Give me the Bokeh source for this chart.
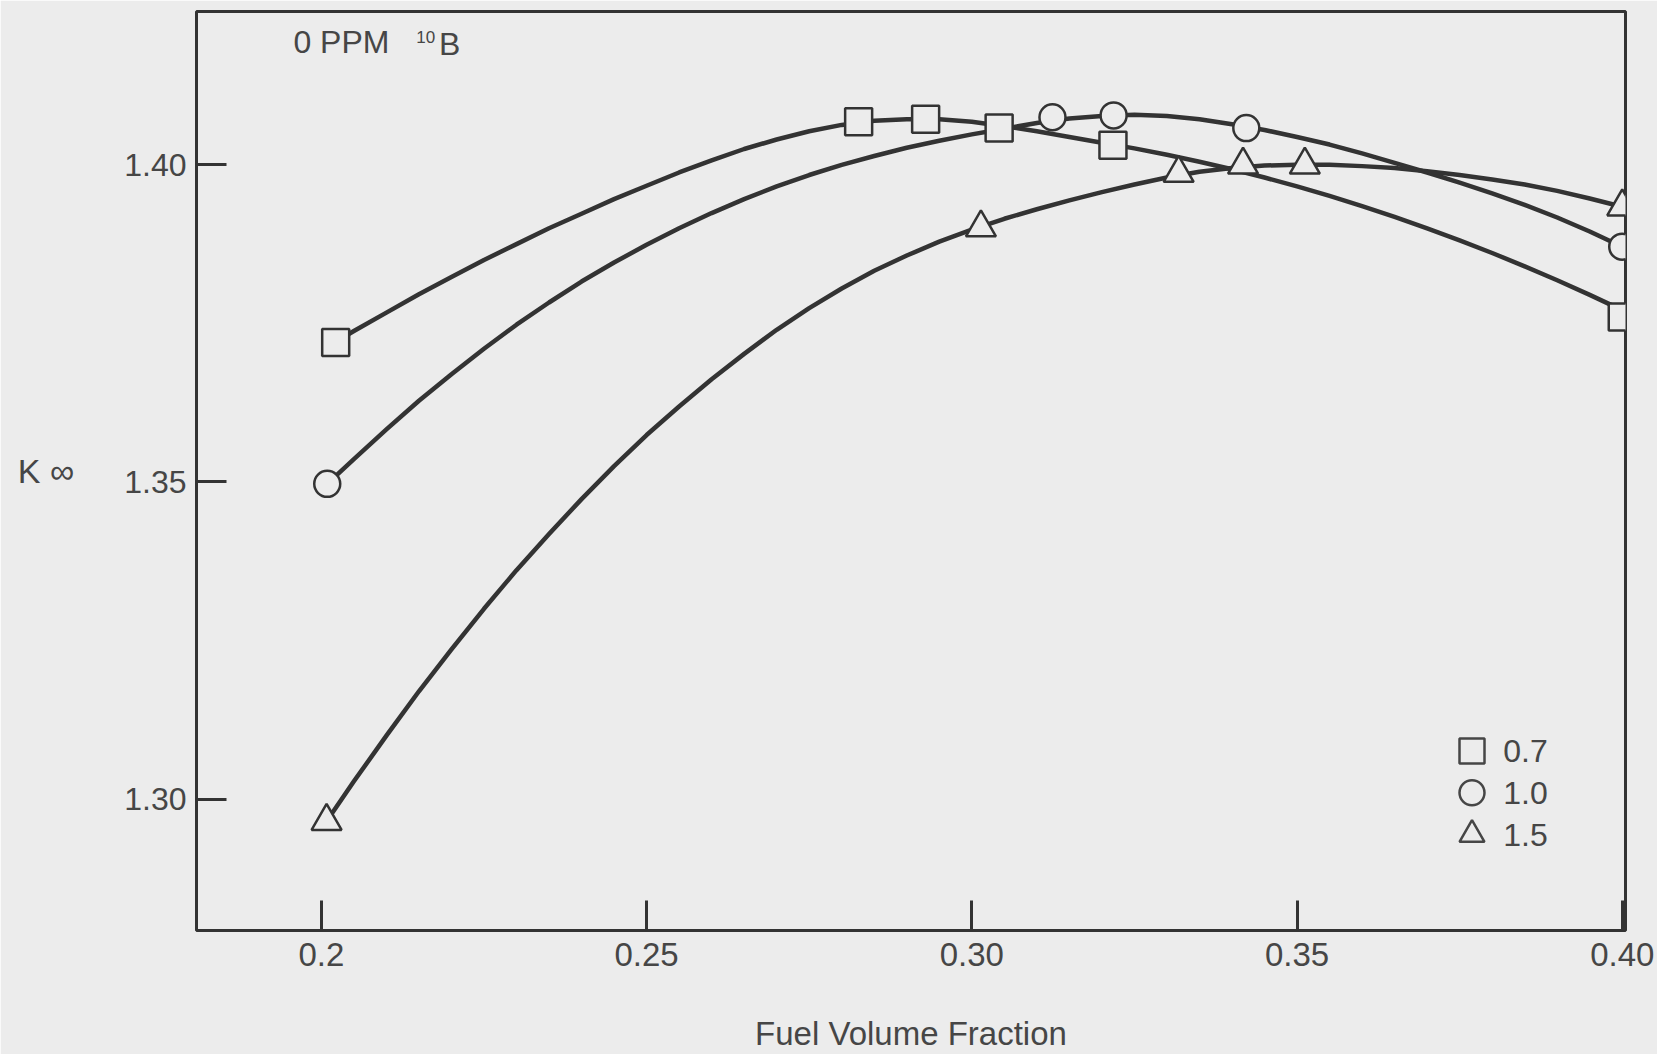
from bokeh.plotting import figure
from bokeh.models import Range1d, FixedTicker
from bokeh.core.properties import value
from bokeh.embed import file_html
from bokeh.resources import INLINE

# ---------------- data ----------------
# ratio 0.7 (squares)
sq_x = [0.2022, 0.2826, 0.2929, 0.3042, 0.3217, 0.4000]
sq_y = [1.3720, 1.4068, 1.4072, 1.4058, 1.4031, 1.3760]
sq_curve_x = [0.2022, 0.205, 0.21, 0.215, 0.22, 0.225, 0.23, 0.235, 0.24, 0.245, 0.25,
              0.255, 0.26, 0.265, 0.27, 0.275, 0.28, 0.285, 0.29, 0.295, 0.30,
              0.305, 0.31, 0.315, 0.32, 0.325, 0.33, 0.335, 0.34, 0.345, 0.35,
              0.355, 0.36, 0.365, 0.37, 0.375, 0.38, 0.385, 0.39, 0.395, 0.40]
sq_curve_y = [1.3721, 1.3738, 1.3767, 1.3796, 1.3823, 1.3850, 1.3875, 1.3900, 1.3923, 1.3946, 1.3967,
              1.3988, 1.4007, 1.4025, 1.4040, 1.4053, 1.4063, 1.40695, 1.4072, 1.4072, 1.4068,
              1.4061, 1.4053, 1.4044, 1.4035, 1.4026, 1.4016, 1.4005, 1.3993, 1.3980, 1.3966,
              1.3951, 1.3935, 1.3918, 1.3900, 1.3881, 1.3861, 1.3840, 1.3818, 1.3795, 1.3771]

# ratio 1.0 (circles)
ci_x = [0.2009, 0.3124, 0.3218, 0.3422, 0.4000]
ci_y = [1.3497, 1.4075, 1.4078, 1.4058, 1.3871]
ci_curve_x = [0.2009, 0.205, 0.21, 0.215, 0.22, 0.225, 0.23, 0.235, 0.24, 0.245, 0.25,
              0.255, 0.26, 0.265, 0.27, 0.275, 0.28, 0.285, 0.29, 0.295, 0.30,
              0.305, 0.31, 0.315, 0.32, 0.325, 0.33, 0.335, 0.34, 0.345, 0.35,
              0.355, 0.36, 0.365, 0.37, 0.375, 0.38, 0.385, 0.39, 0.395, 0.40]
ci_curve_y = [1.3497, 1.3536, 1.3583, 1.3628, 1.3670, 1.3710, 1.3748, 1.3783, 1.3816, 1.3846, 1.3874,
              1.3900, 1.3924, 1.3946, 1.3966, 1.3984, 1.4000, 1.4014, 1.4027, 1.4038, 1.4048,
              1.4057, 1.4066, 1.4073, 1.4077, 1.4079, 1.4077, 1.4072, 1.4064, 1.4055, 1.4044,
              1.4032, 1.4018, 1.4003, 1.3988, 1.3972, 1.3955, 1.3937, 1.3917, 1.3895, 1.3871]

# ratio 1.5 (triangles)
tr_x = [0.2008, 0.3014, 0.3318, 0.3417, 0.3512, 0.4000]
tr_y = [1.2965, 1.3901, 1.3987, 1.4000, 1.4000, 1.3934]
tr_curve_x = [0.2008, 0.205, 0.21, 0.215, 0.22, 0.225, 0.23, 0.235, 0.24, 0.245, 0.25,
              0.255, 0.26, 0.265, 0.27, 0.275, 0.28, 0.285, 0.29, 0.295, 0.30,
              0.305, 0.31, 0.315, 0.32, 0.325, 0.33, 0.335, 0.34, 0.345, 0.35,
              0.355, 0.36, 0.365, 0.37, 0.375, 0.38, 0.385, 0.39, 0.395, 0.40]
tr_curve_y = [1.2965, 1.3028, 1.3100, 1.3170, 1.3236, 1.3300, 1.3361, 1.3418, 1.3473, 1.3525, 1.3574,
              1.3619, 1.3662, 1.3702, 1.3740, 1.3774, 1.3805, 1.3833, 1.3857, 1.3879, 1.3898,
              1.3915, 1.3930, 1.3944, 1.3957, 1.3969, 1.3980, 1.3989, 1.3995, 1.3999, 1.4000,
              1.4000, 1.3998, 1.3995, 1.3990, 1.3984, 1.3977, 1.3969, 1.3959, 1.3947, 1.3934]

legend_labels = ["0.7", "1.0", "1.5"]
legend_markers = ["square", "circle", "triangle"]

x_ticks = [0.2, 0.25, 0.30, 0.35, 0.40]
x_tick_labels = ["0.2", "0.25", "0.30", "0.35", "0.40"]
y_ticks = [1.30, 1.35, 1.40]
y_tick_labels = ["1.30", "1.35", "1.40"]

title_main = "0 PPM"
title_sup = "10"
title_elem = "B"
x_label = "Fuel Volume Fraction"
y_label = "K \u221e"

# ---------------- styling ----------------
BG = "#ececec"
INK = "#333333"
TXT = "#464646"
FONT = "Liberation Sans"

p = figure(width=1657, height=1054,
           x_range=Range1d(0.1808, 0.4005), y_range=Range1d(1.27928, 1.42418),
           output_backend="svg", toolbar_location=None,
           min_border_left=196, min_border_right=32, min_border_top=11, min_border_bottom=120,
           background_fill_color=BG, border_fill_color=BG)
p.grid.visible = False
p.outline_line_color = INK
p.outline_line_width = 3

for ax in (p.xaxis[0], p.yaxis[0]):
    ax.axis_line_color = None
    ax.major_tick_line_color = INK
    ax.major_tick_line_width = 3
    ax.major_tick_in = 30
    ax.major_tick_out = 0
    ax.minor_tick_line_color = None
    ax.major_label_text_font = FONT
    ax.major_label_text_color = TXT
    ax.axis_label_text_font = FONT
    ax.axis_label_text_color = TXT
    ax.axis_label_text_font_style = "normal"

p.xaxis.ticker = FixedTicker(ticks=x_ticks)
p.xaxis.major_label_overrides = dict(zip(x_ticks, x_tick_labels))
p.xaxis.major_label_text_font_size = "33px"
p.xaxis.major_label_standoff = 12
p.xaxis.axis_label = x_label
p.xaxis.axis_label_text_font_size = "33px"
p.xaxis.axis_label_standoff = 46

p.yaxis.ticker = FixedTicker(ticks=y_ticks)
p.yaxis.major_label_overrides = dict(zip(y_ticks, y_tick_labels))
p.yaxis.major_label_text_font_size = "32px"
p.yaxis.major_label_standoff = 10
p.yaxis.axis_label = y_label
p.yaxis.axis_label_orientation = "horizontal"
p.yaxis.axis_label_text_font_size = "34px"
p.yaxis.axis_label_standoff = 47

# curves
for cx, cy in ((sq_curve_x, sq_curve_y), (ci_curve_x, ci_curve_y), (tr_curve_x, tr_curve_y)):
    p.line(cx, cy, line_color=INK, line_width=4.5, line_join="round")

# markers
p.scatter(sq_x, sq_y, marker="square", size=27, fill_color=BG, line_color=INK, line_width=2.5)
p.scatter(ci_x, ci_y, marker="circle", size=26, fill_color=BG, line_color=INK, line_width=2.5)
p.scatter(tr_x, tr_y, marker="triangle", size=30, fill_color=BG, line_color=INK, line_width=2.5)

# legend (manual, lower right)
leg_x = 0.3769
leg_y = [1.3076, 1.3010, 1.2944]
p.scatter([leg_x] * 3, leg_y, marker=legend_markers, size=25, fill_color=BG,
          line_color=TXT, line_width=2.5)
p.text([0.3817] * 3, leg_y, text=legend_labels, text_font=value(FONT), text_font_size="32px",
       text_color=TXT, text_baseline="middle", text_align="left")

# annotation "0 PPM 10B"
p.text([0.1957], [1.4193], text=[title_main], text_font=value(FONT), text_font_size="32px",
       text_color=TXT, text_baseline="middle", text_align="left")
p.text([0.2146], [1.4201], text=[title_sup], text_font=value(FONT), text_font_size="17px",
       text_color=TXT, text_baseline="middle", text_align="left")
p.text([0.2181], [1.4191], text=[title_elem], text_font=value(FONT), text_font_size="32px",
       text_color=TXT, text_baseline="middle", text_align="left")

open("out.html", "w").write(file_html(p, INLINE))
